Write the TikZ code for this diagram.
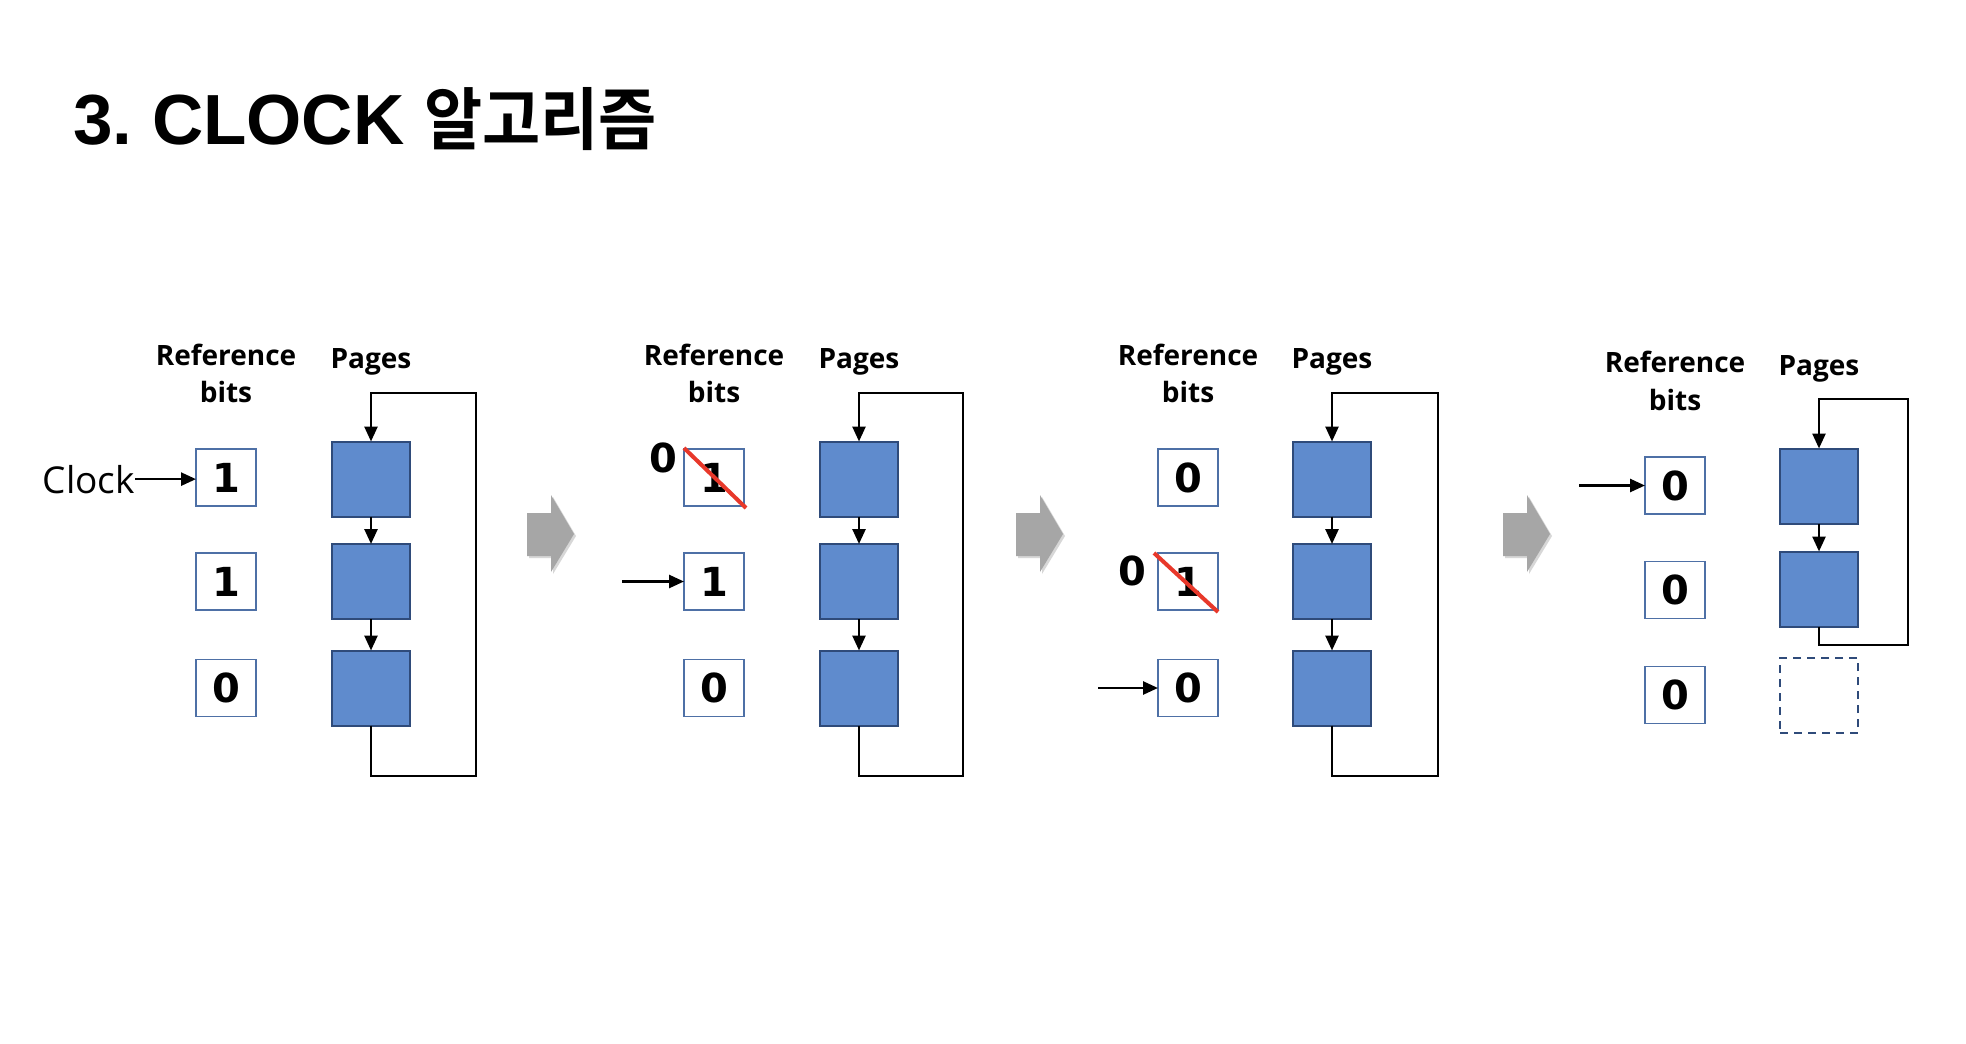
\documentclass[tikz,border=0pt]{standalone}
\usepackage{fontspec}
\usepackage{graphicx}
\setmainfont{Open Sans}
\newfontfamily\titlefont{Liberation Sans}
\newfontfamily\krfont{Noto Sans CJK KR}[BoldFont={Noto Sans CJK KR Bold}]
\newfontfamily\digitfont{DejaVu Sans}
\usetikzlibrary{arrows.meta,calc}
\definecolor{pagefill}{HTML}{5F8BCD}
\definecolor{pageborder}{HTML}{2F4B7A}
\definecolor{bitborder}{HTML}{4E70A6}
\definecolor{strikered}{HTML}{E8382A}
\definecolor{shiftgray}{HTML}{A6A6A6}
\tikzset{
  bitbox/.style={draw=bitborder, line width=1.6pt, fill=white, minimum width=60pt, minimum height=57pt, inner sep=0pt, outer sep=0pt, font=\digitfont\bfseries\fontsize{40}{40}\selectfont},
  pagebox/.style={draw=pageborder, line width=2pt, fill=pagefill, minimum width=78pt, minimum height=75pt, inner sep=0pt, outer sep=0pt},
  emptybox/.style={draw=pageborder, dash pattern=on 8pt off 6pt, line width=1.8pt, minimum width=78pt, minimum height=75pt, inner sep=0pt, outer sep=0pt},
  link/.style={line width=2.6pt, -{Triangle[length=15pt,width=13pt]}},
  hdr/.style={font=\bfseries\fontsize{28}{28}\selectfont, anchor=base, inner sep=0pt},
  newbit/.style={font=\digitfont\bfseries\fontsize{40}{40}\selectfont, inner sep=0pt},
  strikeline/.style={draw=strikered, line width=4pt},
  shiftarrow/.style={fill=shiftgray}
}
\newcommand\clockpanel[7]{%
  \node[hdr] (#1ref) at (#2,365) {Reference};
  \node[hdr] (#1bits) at (#2,402) {bits};
  \node[hdr] (#1pg) at (#3,368) {Pages};
  \node[bitbox] (#1b1) at (#2,477.5) {#5};
  \node[bitbox] (#1b2) at (#2,581.5) {#6};
  \node[bitbox] (#1b3) at (#2,688) {#7};
  \node[pagebox] (#1p1) at (#3,479) {};
  \node[pagebox] (#1p2) at (#3,581.5) {};
  \node[pagebox] (#1p3) at (#3,688) {};
  \draw[link] (#1p1) -- (#1p2);
  \draw[link] (#1p2) -- (#1p3);
  \draw[link] (#1p3.south) |- (#4,776) -- (#4,393) -| (#1p1.north);
}
\newcommand\shiftarrowat[1]{%
  \fill[shiftgray!45] (#1+2,515) -- ++(24,0) -- ++(0,-18) -- ++(23,39) -- ++(-23,38) -- ++(0,-16) -- ++(-24,0) -- cycle;
  \fill[shiftarrow] (#1,513) -- ++(24,0) -- ++(0,-18) -- ++(23,39) -- ++(-23,38) -- ++(0,-16) -- ++(-24,0) -- cycle;
}
\begin{document}
\begin{tikzpicture}[x=1pt,y=-1pt]
\path[fill=white] (0,0) rectangle (1966,1044);
\useasboundingbox (0,0) rectangle (1966,1044);

% title
\node[anchor=base west, inner sep=0pt] (title) at (73,144)
  {\titlefont\bfseries\fontsize{71}{71}\selectfont 3.\ CLOCK \scalebox{0.93}[1]{\krfont\bfseries\fontsize{68}{68}\selectfont 알고리즘}};

% panel 1
\clockpanel{A}{226}{371}{476}{1}{1}{0}
\node[anchor=base east, inner sep=0pt, font=\fontsize{37}{37}\selectfont] (clk) at (135,493) {Clock};
\draw[link] (clk.east) -- (clk.east -| Ab1.west);

% panel 2
\clockpanel{B}{714}{859}{963}{1}{1}{0}
\node[newbit] (Bz) at (663,458) {0};
\draw[strikeline] ($(Bb1.north west)+(0,-1)$) -- ($(Bb1.south east)+(2,2)$);
\coordinate (Bptr) at (622,581.5);
\draw[link] (Bptr) -- (Bb2.west);

% panel 3
\clockpanel{C}{1188}{1332}{1438}{0}{1}{0}
\node[newbit] (Cz) at (1132,571) {0};
\draw[strikeline] ($(Cb2.north west)+(-4,0)$) -- ($(Cb2.south east)+(0,2)$);
\coordinate (Cptr) at (1098,688);
\draw[link] (Cptr) -- (Cb3.west);

% panel 4
\node[hdr] (Dref) at (1675,372) {Reference};
\node[hdr] (Dbits) at (1675,410) {bits};
\node[hdr] (Dpg) at (1819,375) {Pages};
\node[bitbox] (Db1) at (1675,485.5) {0};
\node[bitbox] (Db2) at (1675,590) {0};
\node[bitbox] (Db3) at (1675,695) {0};
\node[pagebox] (Dp1) at (1819,486) {};
\node[pagebox] (Dp2) at (1819,589) {};
\node[emptybox] (Dp3) at (1819,695.5) {};
\draw[link] (Dp1) -- (Dp2);
\draw[link] (Dp2.south) |- (1908,645) -- (1908,399) -| (Dp1.north);
\coordinate (Dptr) at (1579,485.5);
\draw[link] (Dptr) -- (Db1.west);

% step arrows
\shiftarrowat{527}
\shiftarrowat{1016}
\shiftarrowat{1503}
\end{tikzpicture}
\end{document}
